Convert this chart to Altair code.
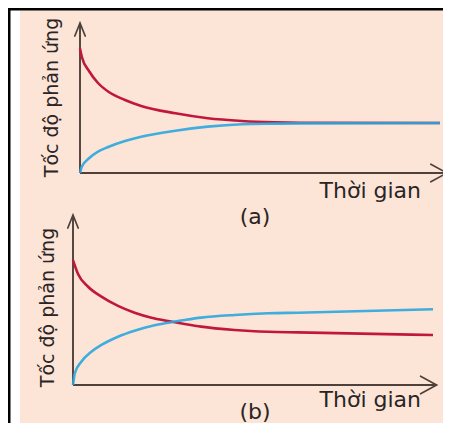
import altair as alt
import pandas as pd

# ---------------- data ----------------
# Panel (a): equilibrium, forward and reverse rates meet
time_a = [0, 0.05, 0.25, 0.5, 0.8, 1.25, 1.7, 2.65, 3.55, 4.5, 5.4, 6.1, 10]
forward_a = [8.3, 7.75, 6.8, 6.0, 5.4, 4.87, 4.47, 3.98, 3.65, 3.47, 3.38, 3.35, 3.33]
reverse_a = [0, 0.42, 0.98, 1.42, 1.75, 2.13, 2.42, 2.82, 3.09, 3.25, 3.29, 3.31, 3.33]

# Panel (b): rates cross but do not meet
time_b_fwd = [0, 0.14, 0.42, 0.79, 1.25, 1.71, 2.18, 2.64, 3.1, 3.56, 4.49, 5.42, 6.25, 10]
forward_b = [8.33, 7.4, 6.55, 5.89, 5.27, 4.82, 4.49, 4.27, 4.07, 3.89, 3.67, 3.55, 3.51, 3.33]
time_b_rev = [0, 0.05, 0.23, 0.51, 0.79, 1.25, 1.71, 2.18, 2.64, 3.1, 3.56, 4.49, 5.42, 6.25, 10]
reverse_b = [0, 0.78, 1.55, 2.22, 2.67, 3.22, 3.62, 3.93, 4.15, 4.33, 4.49, 4.67, 4.78, 4.82, 5.05]

y_title = "Tốc độ phản ứng"
x_title = "Thời gian"
captions = ["(a)", "(b)"]

# ---------------- styles ----------------
W, H = 435, 415
PEACH = "#fce5d7"
RED = "#c2173d"
BLUE = "#2aa6de"
AXIS = "#4e403a"
TEXT = "#2a2424"
FONT = "DejaVu Sans"
RIGHT_ARROW = "M-1,-0.55L0,0L-1,0.55"
UP_ARROW = "M-0.4,1L0,0L0.4,1"

dummy = pd.DataFrame({"d": [0]})


def panel(tf, fwd, tr, rev, xr, yr, x_end, y_end):
    xs = alt.Scale(domain=[0, 10], range=xr, nice=False, zero=False)
    ys = alt.Scale(domain=[0, 10], range=yr, nice=False, zero=False)

    def enc():
        return dict(
            x=alt.X("t:Q", scale=xs, axis=None),
            y=alt.Y("v:Q", scale=ys, axis=None),
        )

    fdf = pd.DataFrame({"t": tf, "v": fwd})
    rdf = pd.DataFrame({"t": tr, "v": rev})
    red = alt.Chart(fdf).mark_line(
        color=RED, strokeWidth=2.6, interpolate="monotone"
    ).encode(**enc())
    blue = alt.Chart(rdf).mark_line(
        color=BLUE, strokeWidth=2.6, interpolate="monotone", opacity=0.9
    ).encode(**enc())

    xaxis = alt.Chart(pd.DataFrame({"t": [0], "t2": [x_end], "v": [0]})).mark_rule(
        color=AXIS, strokeWidth=1.9
    ).encode(x=alt.X("t:Q", scale=xs, axis=None), x2="t2:Q",
             y=alt.Y("v:Q", scale=ys, axis=None))
    yaxis = alt.Chart(pd.DataFrame({"t": [0], "v": [0], "v2": [y_end]})).mark_rule(
        color=AXIS, strokeWidth=1.9
    ).encode(x=alt.X("t:Q", scale=xs, axis=None),
             y=alt.Y("v:Q", scale=ys, axis=None), y2="v2:Q")
    rarrow = alt.Chart(pd.DataFrame({"t": [x_end], "v": [0]})).mark_point(
        shape=RIGHT_ARROW, size=1024, filled=False, stroke=AXIS,
        strokeWidth=1.7, opacity=1, strokeCap="round"
    ).encode(**enc())
    uarrow = alt.Chart(pd.DataFrame({"t": [0], "v": [y_end]})).mark_point(
        shape=UP_ARROW, size=676, filled=False, stroke=AXIS,
        strokeWidth=1.7, opacity=1, strokeCap="round"
    ).encode(**enc())
    return [xaxis, yaxis, red, blue, rarrow, uarrow]


def label(text, x, y, size, angle=0, align="center"):
    return alt.Chart(dummy).mark_text(
        text=text, font=FONT, fontSize=size, color=TEXT, angle=angle,
        align=align, baseline="alphabetic"
    ).encode(x=alt.value(x), y=alt.value(y))


left_strip = alt.Chart(dummy).mark_rect(color="white").encode(
    x=alt.value(0), x2=alt.value(12), y=alt.value(0), y2=alt.value(H)
)
border_left = alt.Chart(dummy).mark_rect(color="black").encode(
    x=alt.value(0), x2=alt.value(2.5), y=alt.value(0), y2=alt.value(H)
)
border_top = alt.Chart(dummy).mark_rect(color="black").encode(
    x=alt.value(0), x2=alt.value(W), y=alt.value(0), y2=alt.value(2.5)
)

layers = [left_strip, border_left, border_top]
layers += panel(time_a, forward_a, time_a, reverse_a,
                [72, 432], [165, 15], 10.19, 10)
layers += panel(time_b_fwd, forward_b, time_b_rev, reverse_b,
                [65, 425], [377, 227], 10.1, 11.33)
layers += [
    label(y_title, 50, 89.5, 19, angle=270),
    label(y_title, 46, 299.5, 19, angle=270),
    label(x_title, 413, 190, 22, align="right"),
    label(x_title, 413, 399, 22, align="right"),
    label(captions[0], 247, 216, 22),
    label(captions[1], 247, 411, 22),
]

chart = alt.layer(*layers).resolve_scale(
    x="independent", y="independent"
).properties(
    width=W, height=H, padding=0,
    autosize=alt.AutoSizeParams(type="none"),
).configure_view(strokeOpacity=0).configure(background=PEACH)

chart.save("out.html", embed_options={"renderer": "svg", "actions": False})
